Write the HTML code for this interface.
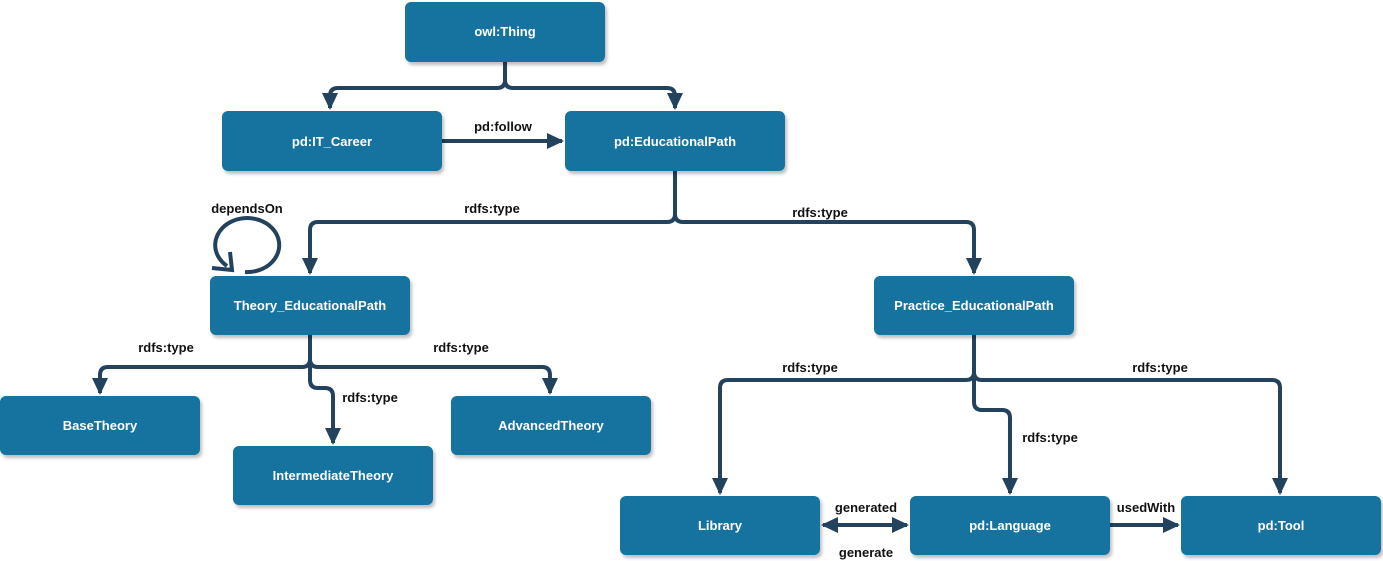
<!DOCTYPE html>
<html><head><meta charset="utf-8"><style>
html,body{margin:0;padding:0;background:#fff;}
svg{display:block;}
text{font-family:"Liberation Sans",sans-serif;font-weight:bold;font-size:13px;}
.n{fill:#12739f;filter:url(#sh);}
.t{fill:#fff;text-anchor:middle;}
.l{fill:#111;text-anchor:middle;}
.e{fill:none;stroke:#23425e;stroke-width:4;}
</style></head><body>
<svg width="1383" height="561" viewBox="0 0 1383 561">
<defs>
<filter id="sh" x="-10%" y="-10%" width="130%" height="140%"><feDropShadow dx="2" dy="3" stdDeviation="1.5" flood-color="#000" flood-opacity="0.25"/></filter>
<marker id="a" markerWidth="10" markerHeight="10" refX="7" refY="5" orient="auto" markerUnits="userSpaceOnUse" viewBox="0 0 10 10"><path d="M0,0 L10,5 L0,10 z" fill="#23425e" transform="scale(1)"/></marker>
<marker id="A" markerWidth="18" markerHeight="18" refX="15" refY="9" orient="auto-start-reverse" markerUnits="userSpaceOnUse"><path d="M0,1 L17,9 L0,17 z" fill="#23425e"/></marker>
</defs>
<!-- edges -->
<path class="e" d="M505,62 V80 Q505,88 497,88 H338 Q330,88 330,96 V108" marker-end="url(#A)"/>
<path class="e" d="M505,62 V80 Q505,88 513,88 H667 Q675,88 675,96 V108" marker-end="url(#A)"/>
<path class="e" d="M442,141 H562" marker-end="url(#A)"/>
<path class="e" d="M675,171 V214 Q675,222 667,222 H318 Q310,222 310,230 V273" marker-end="url(#A)"/>
<path class="e" d="M675,171 V214 Q675,222 683,222 H966 Q974,222 974,230 V273" marker-end="url(#A)"/>
<path class="e" d="M310,335 V359 Q310,367 302,367 H108 Q100,367 100,375 V393" marker-end="url(#A)"/>
<path class="e" d="M310,335 V359 Q310,367 318,367 H542 Q550,367 550,375 V393" marker-end="url(#A)"/>
<path class="e" d="M310,360 V380 Q310,388 318,388 H325 Q333,388 333,396 V443" marker-end="url(#A)"/>
<path class="e" d="M974,335 V372 Q974,380 966,380 H728 Q720,380 720,388 V493" marker-end="url(#A)"/>
<path class="e" d="M974,335 V372 Q974,380 982,380 H1272 Q1280,380 1280,388 V493" marker-end="url(#A)"/>
<path class="e" d="M974,370 V402 Q974,410 982,410 H1002 Q1010,410 1010,418 V493" marker-end="url(#A)"/>
<path class="e" d="M823,525 H907" marker-start="url(#A)" marker-end="url(#A)"/>
<path class="e" d="M1110,525 H1178" marker-end="url(#A)"/>
<path class="e" d="M245,272 A32,27 0 1 0 227,266" />
<path d="M212,268 L232,270 L230,252" fill="none" stroke="#23425e" stroke-width="4"/>
<!-- nodes -->
<rect class="n" x="405" y="2" width="200" height="60" rx="6"/><text class="t" x="505" y="36">owl:Thing</text>
<rect class="n" x="222" y="111" width="220" height="60" rx="6"/><text class="t" x="332" y="146">pd:IT_Career</text>
<rect class="n" x="565" y="111" width="220" height="60" rx="6"/><text class="t" x="675" y="146">pd:EducationalPath</text>
<rect class="n" x="210" y="276" width="200" height="59" rx="6"/><text class="t" x="310" y="310">Theory_EducationalPath</text>
<rect class="n" x="874" y="276" width="200" height="59" rx="6"/><text class="t" x="974" y="310">Practice_EducationalPath</text>
<rect class="n" x="0" y="396" width="200" height="59" rx="6"/><text class="t" x="100" y="430">BaseTheory</text>
<rect class="n" x="233" y="446" width="200" height="59" rx="6"/><text class="t" x="333" y="480">IntermediateTheory</text>
<rect class="n" x="451" y="396" width="200" height="59" rx="6"/><text class="t" x="551" y="430">AdvancedTheory</text>
<rect class="n" x="620" y="496" width="200" height="59" rx="6"/><text class="t" x="720" y="530">Library</text>
<rect class="n" x="910" y="496" width="200" height="59" rx="6"/><text class="t" x="1010" y="530">pd:Language</text>
<rect class="n" x="1181" y="496" width="200" height="59" rx="6"/><text class="t" x="1281" y="530">pd:Tool</text>
<!-- labels -->
<text class="l" x="503" y="131">pd:follow</text>
<text class="l" x="247" y="213">dependsOn</text>
<text class="l" x="492" y="213">rdfs:type</text>
<text class="l" x="820" y="217">rdfs:type</text>
<text class="l" x="166" y="352">rdfs:type</text>
<text class="l" x="461" y="352">rdfs:type</text>
<text class="l" x="370" y="402">rdfs:type</text>
<text class="l" x="810" y="372">rdfs:type</text>
<text class="l" x="1160" y="372">rdfs:type</text>
<text class="l" x="1050" y="442">rdfs:type</text>
<text class="l" x="866" y="512">generated</text>
<text class="l" x="866" y="557">generate</text>
<text class="l" x="1146" y="512">usedWith</text>
</svg>
</body></html>
